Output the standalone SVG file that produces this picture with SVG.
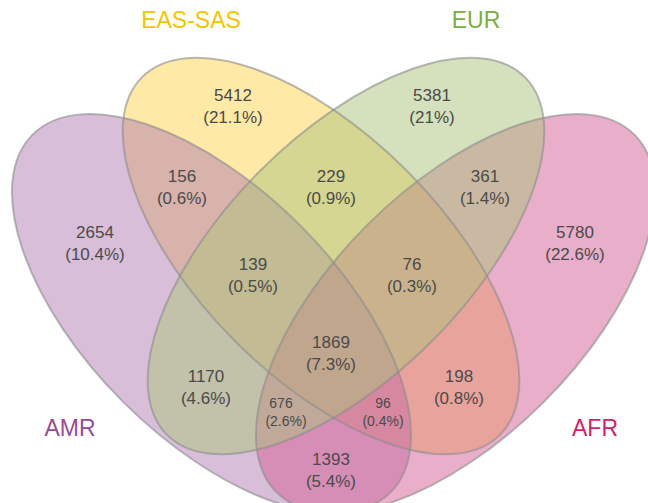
<svg xmlns="http://www.w3.org/2000/svg" width="648" height="503" viewBox="0 0 648 503">
<style>
.f{fill-opacity:0.5;stroke:none}
.o{fill:none;stroke:#8c8c8c;stroke-opacity:0.6;stroke-width:2}
.n{font-family:"Liberation Sans",Arial,sans-serif;font-size:17px;fill:#4a4a4a;text-anchor:middle}
.s{font-family:"Liberation Sans",Arial,sans-serif;font-size:14px;fill:#4a4a4a;text-anchor:middle}
.c{font-family:"Liberation Sans",Arial,sans-serif;font-size:23px;text-anchor:middle}
</style>
<defs>
<ellipse id="e-yel" cx="321" cy="256" rx="253" ry="121" transform="rotate(45 321 256)"/>
<ellipse id="e-amr" cx="211.5" cy="313.5" rx="253" ry="125" transform="rotate(45 211.5 313.5)"/>
<ellipse id="e-afr" cx="455.5" cy="313.5" rx="253" ry="125" transform="rotate(-45 455.5 313.5)"/>
<ellipse id="e-eur" cx="346" cy="256" rx="253" ry="121" transform="rotate(-45 346 256)"/>
</defs>
<rect width="648" height="503" fill="#ffffff"/>
<g id="eas-sas"><use href="#e-yel" class="f" fill="#fdd34d"/></g>
<g id="amr"><use href="#e-amr" class="f" fill="#b17db1"/></g>
<g id="afr"><use href="#e-afr" class="f" fill="#d35d93"/></g>
<g id="eur"><use href="#e-eur" class="f" fill="#abc37b"/></g>
<g id="outlines">
<use href="#e-yel" class="o"/>
<use href="#e-amr" class="o"/>
<use href="#e-afr" class="o"/>
<use href="#e-eur" class="o"/>
</g>
<g id="categories">
<text class="c" x="191" y="28" fill="#f5c400">EAS-SAS</text>
<text class="c" x="476" y="28" fill="#7aae3e">EUR</text>
<text class="c" x="70" y="436" fill="#9a4a92">AMR</text>
<text class="c" x="595" y="436" fill="#d21f68">AFR</text>
</g>
<g id="counts">
<text class="n" x="233" y="101">5412</text><text class="n" x="233" y="123">(21.1%)</text>
<text class="n" x="432" y="101">5381</text><text class="n" x="432" y="123">(21%)</text>
<text class="n" x="182" y="182">156</text><text class="n" x="182" y="204">(0.6%)</text>
<text class="n" x="331" y="182">229</text><text class="n" x="331" y="204">(0.9%)</text>
<text class="n" x="485" y="182">361</text><text class="n" x="485" y="204">(1.4%)</text>
<text class="n" x="95" y="238">2654</text><text class="n" x="95" y="260">(10.4%)</text>
<text class="n" x="575" y="238">5780</text><text class="n" x="575" y="260">(22.6%)</text>
<text class="n" x="253" y="270">139</text><text class="n" x="253" y="292">(0.5%)</text>
<text class="n" x="412" y="270">76</text><text class="n" x="412" y="292">(0.3%)</text>
<text class="n" x="331" y="348">1869</text><text class="n" x="331" y="370">(7.3%)</text>
<text class="n" x="206" y="382">1170</text><text class="n" x="206" y="404">(4.6%)</text>
<text class="n" x="459" y="382">198</text><text class="n" x="459" y="404">(0.8%)</text>
<text class="s" x="281" y="408">676</text><text class="s" x="286" y="426">(2.6%)</text>
<text class="s" x="383" y="408">96</text><text class="s" x="383" y="426">(0.4%)</text>
<text class="n" x="331" y="465">1393</text><text class="n" x="331" y="487">(5.4%)</text>
</g>
</svg>
